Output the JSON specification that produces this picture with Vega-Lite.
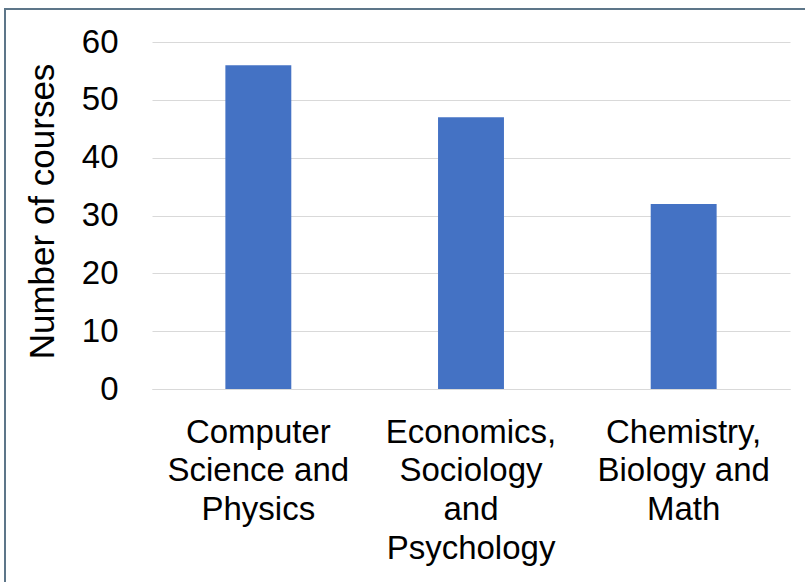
{
  "$schema": "https://vega.github.io/schema/vega-lite/v6.json",
  "autosize": {"type": "none"},
  "padding": {"left": 5, "top": 9, "right": 0, "bottom": 0},
  "width": 805,
  "height": 582,
  "background": "#ffffff",
  "config": {
    "view": {"stroke": "#5d7689", "strokeWidth": 2},
    "font": "Liberation Sans"
  },
  "data": {
    "values": [
      {"field": "Computer\nScience and\nPhysics", "courses": 56},
      {"field": "Economics,\nSociology\nand\nPsychology", "courses": 47},
      {"field": "Chemistry,\nBiology and\nMath", "courses": 32}
    ]
  },
  "mark": {"type": "bar", "color": "#4472c4"},
  "encoding": {
    "x": {
      "field": "field",
      "type": "nominal",
      "sort": null,
      "scale": {"range": [147, 785], "paddingInner": 0.69, "paddingOuter": 0.345},
      "axis": {
        "title": null,
        "orient": "bottom",
        "offset": -202,
        "labelAngle": 0,
        "labelExpr": "split(datum.value, '\\n')",
        "labelFont": "Liberation Sans",
        "labelFontSize": 33,
        "labelLineHeight": 38.7,
        "labelColor": "#000000",
        "labelPadding": 27,
        "labelLimit": 300,
        "labelOverlap": false,
        "labelBound": false,
        "ticks": false,
        "domain": true,
        "domainColor": "#d9d9d9",
        "domainWidth": 1,
        "grid": false
      }
    },
    "y": {
      "field": "courses",
      "type": "quantitative",
      "scale": {"domain": [0, 60], "range": [380, 33], "nice": false},
      "axis": {
        "title": "Number of courses",
        "titleFont": "Liberation Sans",
        "titleFontSize": 35,
        "titleFontWeight": "normal",
        "titleColor": "#000000",
        "titlePadding": 21,
        "titleY": 202,
        "offset": -130,
        "values": [0, 10, 20, 30, 40, 50, 60],
        "labelFont": "Liberation Sans",
        "labelFontSize": 33,
        "labelColor": "#000000",
        "labelPadding": 17,
        "ticks": false,
        "domain": false,
        "grid": true,
        "gridColor": "#d9d9d9",
        "gridWidth": 1
      }
    }
  }
}
